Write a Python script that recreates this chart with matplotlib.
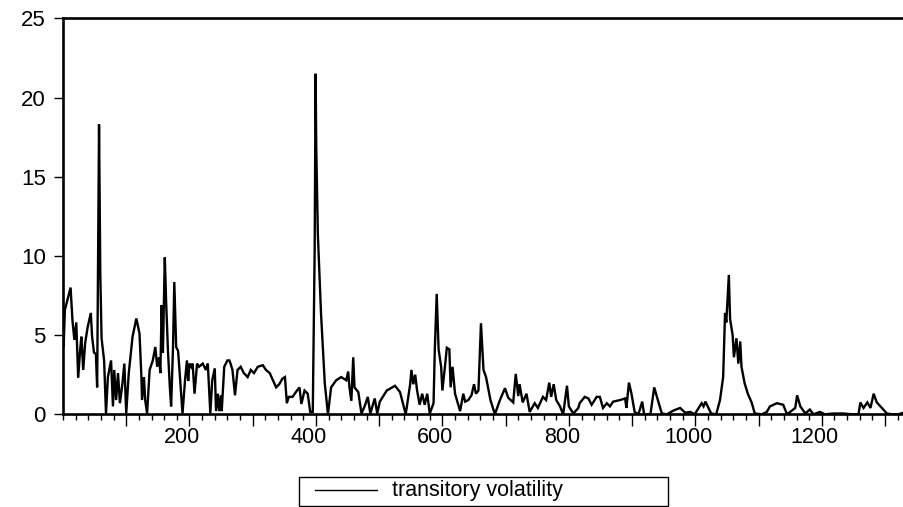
import numpy as np
import matplotlib
matplotlib.use("Agg")
from matplotlib import pyplot as plt
from matplotlib.lines import Line2D
from matplotlib.patches import Rectangle
from matplotlib.ticker import FixedLocator, MultipleLocator, FuncFormatter
from matplotlib.transforms import ScaledTranslation

obs = [1, 3, 12, 15, 18, 21, 24, 27, 29, 32, 35, 39, 44, 46, 49, 52, 54, 57, 59, 61,
       65, 68, 71, 76, 79, 81, 84, 87, 90, 94, 97, 100, 104, 110, 116, 121, 124, 125, 128, 130,
       133, 137, 142, 146, 149, 152, 154, 156, 158, 161, 163, 166, 169, 171, 174, 176, 179, 182, 184, 189,
       193, 196, 198, 200, 203, 205, 208, 212, 215, 221, 226, 229, 233, 236, 240, 242, 245, 247, 250, 251,
       255, 260, 263, 265, 268, 272, 276, 281, 286, 292, 297, 302, 308, 316, 321, 327, 332, 337, 342, 347,
       351, 354, 357, 363, 370, 374, 377, 382, 387, 391, 395, 398, 399.5, 400.5, 403, 408, 414, 419, 424, 432,
       440, 448, 451, 453, 456, 459, 461, 467, 472, 477, 482, 486, 493, 497, 501, 512, 525, 533, 542, 549,
       551, 554, 557, 560, 564, 568, 572, 576, 580, 586, 588, 591, 594, 598, 600, 604, 607, 611, 613, 616,
       620, 628, 633, 636, 641, 646, 650, 653, 657, 661, 665, 669, 676, 683, 691, 699, 704, 712, 716, 720,
       722, 727, 733, 738, 746, 751, 759, 764, 769, 772, 776, 780, 786, 791, 797, 800, 807, 815, 817, 825,
       831, 836, 844, 849, 854, 860, 865, 870, 881, 889, 891, 895, 899, 904, 910, 916, 919, 929, 935, 940,
       947, 955, 966, 976, 984, 992, 999, 1010, 1013, 1016, 1025, 1033, 1039, 1044, 1047, 1049, 1053, 1055, 1059, 1061,
       1065, 1068, 1071, 1073, 1078, 1083, 1089, 1094, 1105, 1113, 1118, 1129, 1139, 1145, 1150, 1158, 1161, 1166, 1174, 1181,
       1187, 1197, 1205, 1218, 1234, 1248, 1258, 1261, 1266, 1272, 1277, 1282, 1287, 1295, 1303, 1311, 1321, 1329]

vol = [4.3, 6.6, 8.0, 5.9, 4.7, 5.8, 2.3, 4.0, 4.9, 2.8, 4.5, 5.5, 6.4, 4.9, 3.9, 3.8, 1.7, 18.3, 8.8, 4.8,
       3.4, 0.05, 2.35, 3.4, 0.5, 2.8, 0.9, 2.6, 0.7, 1.95, 3.2, 0.05, 2.6, 4.9, 6.05, 5.1, 2.35, 0.9, 2.35, 0.9,
       0.05, 2.8, 3.4, 4.25, 3.0, 3.6, 2.6, 6.9, 3.9, 9.9, 7.2, 4.0, 1.7, 0.5, 4.25, 8.35, 4.25, 4.0, 2.9, 0.05,
       2.15, 3.4, 2.1, 3.2, 3.0, 3.2, 1.3, 3.2, 3.0, 3.2, 2.8, 3.2, 0.05, 2.15, 2.9, 0.2, 1.3, 0.2, 1.2, 0.2,
       3.0, 3.4, 3.4, 3.2, 2.8, 1.2, 2.8, 3.0, 2.6, 2.35, 2.8, 2.6, 3.0, 3.1, 2.8, 2.6, 2.15, 1.7, 1.9, 2.25,
       2.35, 0.7, 1.1, 1.1, 1.5, 1.7, 0.65, 1.5, 1.3, 0.15, 0.15, 10.4, 21.5, 16.9, 11.4, 6.4, 1.95, 0.0, 1.7, 2.15,
       2.35, 2.15, 2.7, 1.7, 0.85, 3.6, 1.7, 1.4, 0.05, 0.5, 1.1, 0.05, 1.0, 0.05, 0.8, 1.5, 1.8, 1.4, 0.0, 1.9,
       2.8, 1.9, 2.5, 1.5, 0.6, 1.3, 0.6, 1.3, 0.05, 0.7, 4.1, 7.6, 4.1, 3.0, 1.5, 3.0, 4.2, 4.1, 1.7, 3.0,
       1.3, 0.2, 1.3, 0.8, 0.9, 1.2, 1.9, 1.3, 1.5, 5.75, 2.8, 2.35, 0.9, 0.0, 0.9, 1.65, 1.05, 0.75, 2.55, 1.15,
       1.9, 0.75, 1.3, 0.15, 0.7, 0.4, 1.1, 0.9, 2.0, 1.1, 1.9, 0.9, 0.5, 0.0, 1.8, 0.5, 0.05, 0.4, 0.7, 1.1,
       1.0, 0.6, 1.1, 1.1, 0.4, 0.7, 0.5, 0.8, 0.9, 1.0, 0.4, 2.0, 1.3, 0.15, 0.0, 0.8, 0.0, 0.0, 1.7, 1.0,
       0.05, 0.0, 0.25, 0.4, 0.1, 0.15, 0.0, 0.7, 0.5, 0.8, 0.05, 0.0, 0.9, 2.35, 6.4, 5.8, 8.8, 6.0, 5.0, 3.6,
       4.8, 3.2, 4.6, 3.0, 1.95, 1.3, 0.75, 0.05, 0.0, 0.15, 0.5, 0.7, 0.6, 0.0, 0.15, 0.4, 1.2, 0.5, 0.05, 0.3,
       0.0, 0.15, 0.0, 0.05, 0.05, 0.0, 0.0, 0.75, 0.4, 0.75, 0.4, 1.3, 0.75, 0.4, 0.05, 0.0, 0.0, 0.1]

y_ticks = [0, 5, 10, 15, 20, 25]
x_major = list(range(100, 1400, 100))
series_name = "transitory volatility"

plt.rcParams['font.family'] = ['Liberation Sans', 'DejaVu Sans']

W, H = 904, 507
fig = plt.figure(figsize=(W / 100, H / 100), dpi=100)
# axes: left spine at px 63, bottom at 414, top at 18, runs off the right edge
ax = fig.add_axes([63 / W, 1 - 414.3 / H, 1 - 63 / W, (414.3 - 18.3) / H])

ax.plot(obs, vol, color="black", lw=1.7, solid_joinstyle="miter")

ax.set_xlim(0, 1330)
ax.set_ylim(0, 25)

for side in ["left", "bottom", "top"]:
    ax.spines[side].set_linewidth(1.9)
ax.spines["right"].set_visible(False)

ax.yaxis.set_major_locator(FixedLocator(y_ticks))
ax.xaxis.set_major_locator(FixedLocator(x_major))
ax.xaxis.set_minor_locator(MultipleLocator(20))
ax.xaxis.set_major_formatter(FuncFormatter(lambda v, p: "%d" % v if int(v) % 200 == 0 else ""))

ax.tick_params(axis="y", direction="out", length=6.5, width=1, pad=6, labelsize=16)
ax.tick_params(axis="x", which="major", direction="out", length=8.5, width=1, pad=1, labelsize=15.5)
ax.tick_params(axis="x", which="minor", direction="out", length=4.3, width=1)

# the scanned labels sit a little left of their ticks
shift = ScaledTranslation(-0.07, 0, fig.dpi_scale_trans)
for tick in ax.xaxis.get_major_ticks():
    tick.label1.set_transform(tick.label1.get_transform() + shift)

# legend box under the plot, drawn in figure pixels
box_l, box_r, box_t, box_b = 299, 668, 476.7, 506
fig.patches.append(Rectangle((box_l / W, 1 - box_b / H), (box_r - box_l) / W, (box_b - box_t) / H,
                             transform=fig.transFigure, fill=False, ec="black", lw=1))
fig.lines.append(Line2D([315 / W, 377 / W], [1 - 490 / H, 1 - 490 / H],
                        transform=fig.transFigure, color="black", lw=1))
fig.text(392 / W, 1 - 490.5 / H, series_name, fontsize=15.5, va="center", ha="left")

fig.savefig("out.png", dpi=100)
